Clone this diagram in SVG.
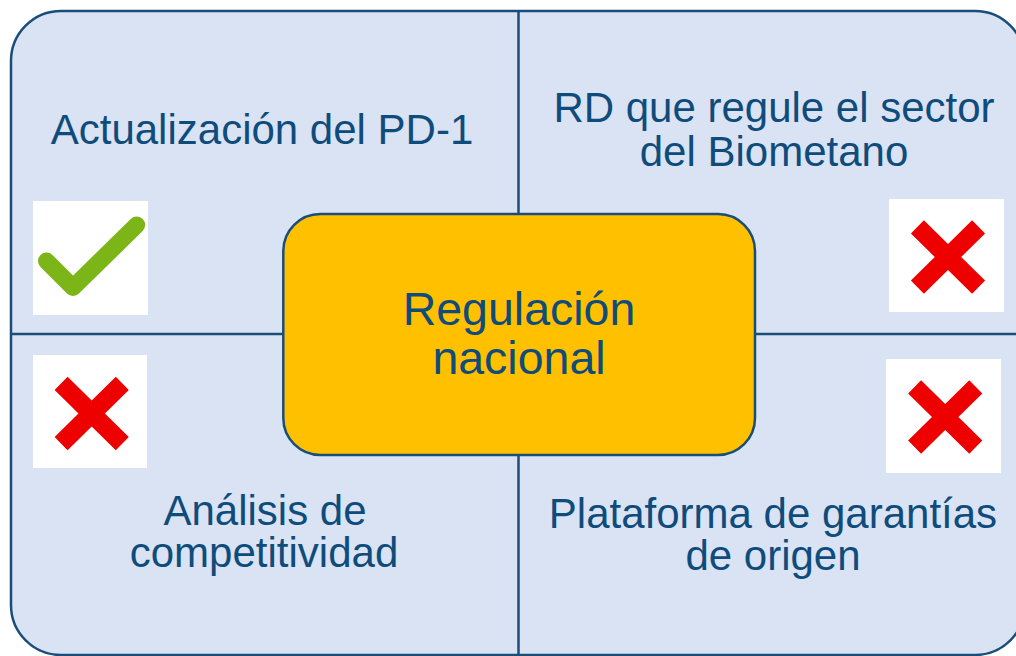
<svg xmlns="http://www.w3.org/2000/svg" width="1016" height="656" viewBox="0 0 1016 656">
  <style>
    .lbl { font-family: "Liberation Sans", Arial, sans-serif; fill: #0f4c7c; text-anchor: middle; }
    .q { font-size: 42px; }
    .c { font-size: 46.5px; }
    .frame { fill: #dae3f3; stroke: #1a4e7a; stroke-width: 2.5; }
    .div { stroke: #1a4e7a; stroke-width: 2.5; fill: none; }
    .box { fill: #ffffff; }
    .xm { stroke: #ee0000; stroke-width: 18.5; stroke-linecap: butt; fill: none; }
    .ck { stroke: #7cb518; stroke-width: 17; stroke-linecap: round; stroke-linejoin: round; fill: none; }
  </style>
  <defs>
    <g id="xmark">
      <path class="xm" d="M-30.6,-30.1 L30.6,30.1 M30.6,-30.1 L-30.6,30.1"/>
    </g>
  </defs>
  <g id="frame">
    <rect class="frame" x="11" y="11" width="1014" height="644" rx="50" ry="50"/>
  </g>
  <g id="connectors">
    <line class="div" x1="518.5" y1="11" x2="518.5" y2="655"/>
    <line class="div" x1="11" y1="334" x2="1025" y2="334"/>
  </g>
  <g id="q1">
    <text class="lbl q" x="262" y="144.3">Actualización del PD-1</text>
    <rect class="box" x="33" y="201" width="115" height="114"/>
    <polyline class="ck" points="46.5,261 73,287.5 136.7,225"/>
  </g>
  <g id="q2">
    <text class="lbl q" x="774" y="122.3">RD que regule el sector</text>
    <text class="lbl q" x="774" y="166">del Biometano</text>
    <rect class="box" x="889" y="199" width="115" height="113"/>
    <use href="#xmark" x="948" y="257"/>
  </g>
  <g id="q3">
    <text class="lbl q" x="265" y="525">Análisis de</text>
    <text class="lbl q" x="264" y="567">competitividad</text>
    <rect class="box" x="33" y="355" width="114" height="113"/>
    <use href="#xmark" x="91.7" y="413.5"/>
  </g>
  <g id="q4">
    <text class="lbl q" x="773" y="528">Plataforma de garantías</text>
    <text class="lbl q" x="773" y="570">de origen</text>
    <rect class="box" x="886" y="359" width="115" height="114"/>
    <use href="#xmark" x="945.2" y="417"/>
  </g>
  <g id="center">
    <rect x="283.3" y="214" width="471.7" height="241" rx="37" ry="37" fill="#ffc000" stroke="#1a4e7a" stroke-width="2.5"/>
    <text class="lbl c" x="519" y="325">Regulación</text>
    <text class="lbl c" x="519" y="374">nacional</text>
  </g>
</svg>
